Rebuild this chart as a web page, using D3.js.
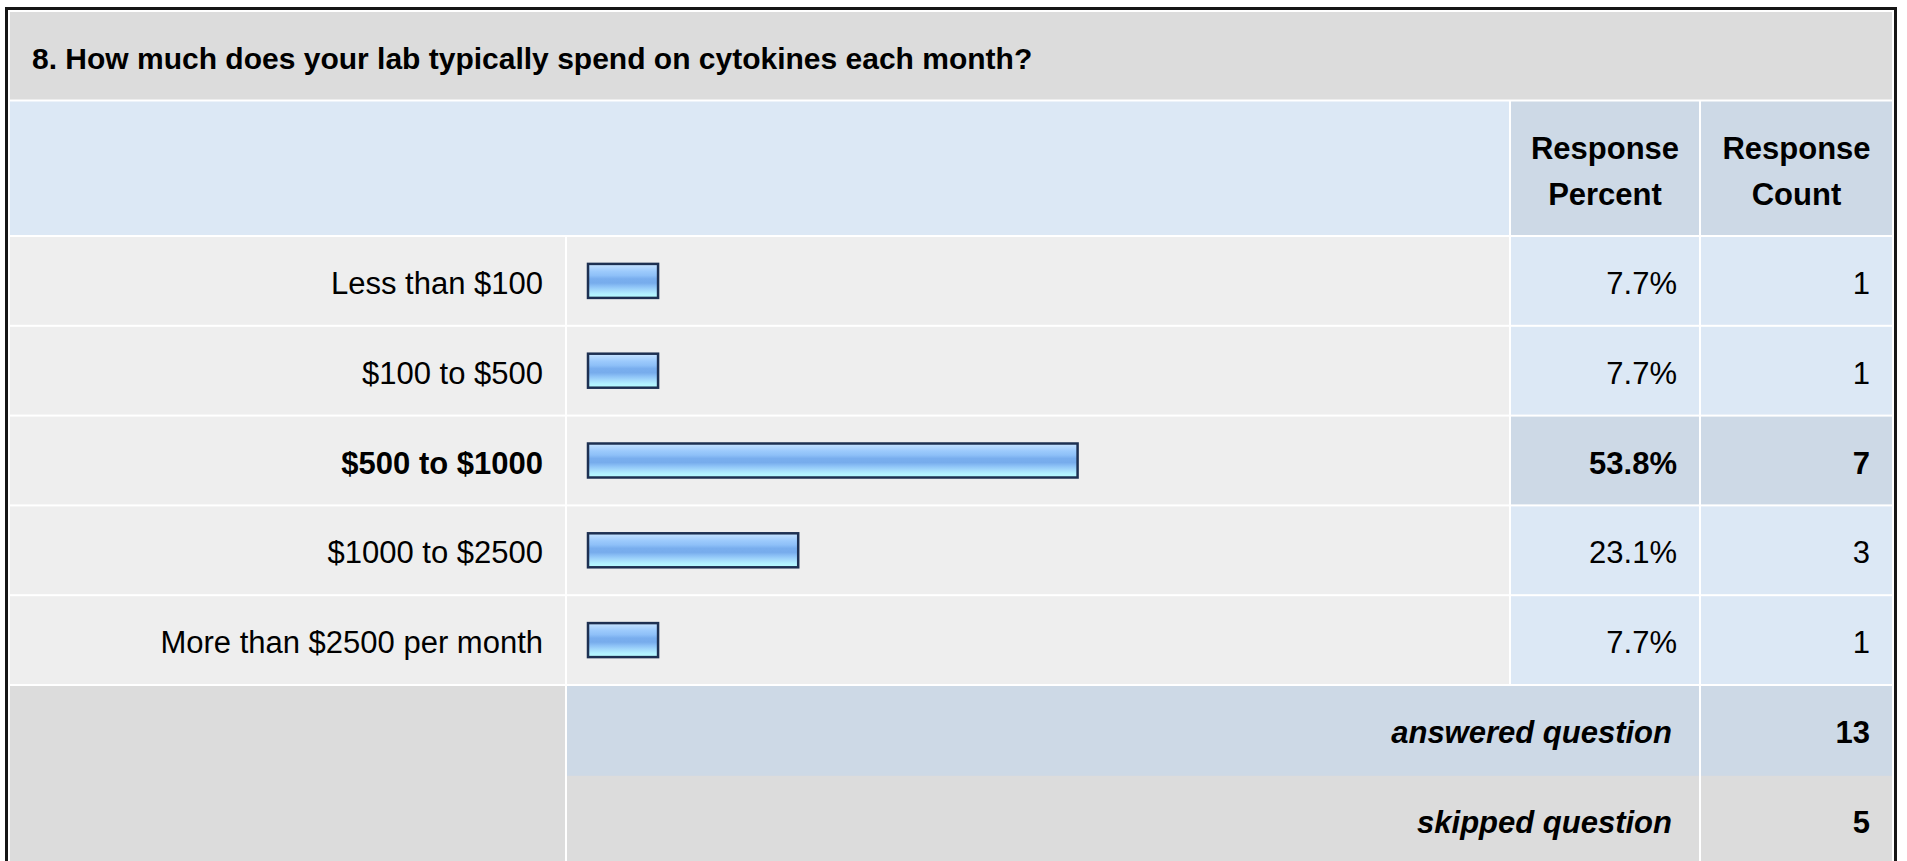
<!DOCTYPE html>
<html>
<head>
<meta charset="utf-8">
<script src="https://cdn.jsdelivr.net/npm/d3@7"></script>
<style>
  html, body { margin: 0; padding: 0; background: #ffffff; overflow: hidden; }
  svg { display: block; font-family: "Liberation Sans", Arial, Helvetica, sans-serif; }
</style>
</head>
<body>
<svg id="chart" width="1907" height="861"></svg>
<script>
// Survey question summary: answer choices, bar of response percent, percent and count.
const question = "8. How much does your lab typically spend on cytokines each month?";
const categories = ["Less than $100", "$100 to $500", "$500 to $1000", "$1000 to $2500", "More than $2500 per month"];
const percents = [7.7, 7.7, 53.8, 23.1, 7.7];
const counts = [1, 1, 7, 3, 1];
const headerPercent = ["Response", "Percent"];
const headerCount = ["Response", "Count"];
const summaryLabels = ["answered question", "skipped question"];
const summaryCounts = [13, 5];

const svg = d3.select("#chart");
const FS = 31;

// colours
const C = {
  title: "#dcdcdc",
  header: "#dce8f5",
  headerCell: "#cdd9e6",
  rowCell: "#eeeeee",
  valueCell: "#dce8f5",
  valueHi: "#cdd9e6",
  summaryCell: "#cdd9e6",
  grey: "#dcdcdc",
  border: "#161616",
  barStroke: "#1d3052",
  text: "#000000"
};

// table geometry
const left = 10, right = 1892;
const colLabel = [left, 565];
const colBar = [567, 1509];
const colPct = [1511, 1699];
const colCnt = [1701, right];
const titleBand = [12, 99.5];
const headerBand = [101.5, 235];

// rows: five answer choices, then two summary rows
const rowKeys = categories.concat(summaryLabels);
const y = d3.scaleBand().domain(rowKeys).range([236, 236 + 89.8 * rowKeys.length]).padding(0);
const rowTop = k => y(k) + 1;
const rowH = y.bandwidth() - 2;
const rowMid = k => y(k) + y.bandwidth() / 2;

// bar scale
const x = d3.scaleLinear().domain([0, 100]).range([588, 1498]);

const maxCount = d3.max(counts);
const fmtPct = v => d3.format(".1f")(v) + "%";

// gradient for the bars
const defs = svg.append("defs");
const grad = defs.append("linearGradient").attr("id", "barGrad")
  .attr("x1", 0).attr("y1", 0).attr("x2", 0).attr("y2", 1);
[
  [0.00, "#cbe7ff"], [0.10, "#b4d8fe"], [0.22, "#9ccafc"], [0.34, "#8ec0f8"],
  [0.44, "#79aeee"], [0.56, "#77acec"], [0.66, "#8cc1f6"], [0.76, "#a0d6fb"],
  [0.88, "#b2f0ff"], [1.00, "#b6feff"]
].forEach(([o, c]) => grad.append("stop").attr("offset", o).attr("stop-color", c));

// outer frame
svg.append("rect")
  .attr("x", 6.5).attr("y", 8.5)
  .attr("width", 1889).attr("height", 900)
  .attr("fill", "#ffffff")
  .attr("stroke", C.border).attr("stroke-width", 3);

// title band
svg.append("rect").attr("x", left).attr("y", titleBand[0])
  .attr("width", right - left).attr("height", titleBand[1] - titleBand[0]).attr("fill", C.title);
svg.append("text").attr("x", 32).attr("y", (titleBand[0] + titleBand[1]) / 2 + 13)
  .attr("font-size", 30).attr("font-weight", "bold").attr("fill", C.text)
  .text(question);

// header band
svg.append("rect").attr("x", left).attr("y", headerBand[0])
  .attr("width", colBar[1] - left).attr("height", headerBand[1] - headerBand[0]).attr("fill", C.header);
[[colPct, headerPercent], [colCnt, headerCount]].forEach(([col, lines]) => {
  svg.append("rect").attr("x", col[0]).attr("y", headerBand[0])
    .attr("width", col[1] - col[0]).attr("height", headerBand[1] - headerBand[0]).attr("fill", C.headerCell);
  const t = svg.append("text").attr("text-anchor", "middle")
    .attr("font-size", FS).attr("font-weight", "bold").attr("fill", C.text);
  lines.forEach((ln, i) => {
    t.append("tspan").attr("x", (col[0] + col[1]) / 2).attr("y", 159 + i * 46).text(ln);
  });
});

// answer rows
const rows = svg.append("g").selectAll("g").data(categories.map((c, i) => ({
  cat: c, pct: percents[i], cnt: counts[i], hi: counts[i] === maxCount
}))).join("g");

rows.append("rect").attr("x", colLabel[0]).attr("y", d => rowTop(d.cat))
  .attr("width", colLabel[1] - colLabel[0]).attr("height", rowH).attr("fill", C.rowCell);
rows.append("rect").attr("x", colBar[0]).attr("y", d => rowTop(d.cat))
  .attr("width", colBar[1] - colBar[0]).attr("height", rowH).attr("fill", C.rowCell);
rows.append("rect").attr("x", colPct[0]).attr("y", d => rowTop(d.cat))
  .attr("width", colPct[1] - colPct[0]).attr("height", rowH)
  .attr("fill", d => d.hi ? C.valueHi : C.valueCell);
rows.append("rect").attr("x", colCnt[0]).attr("y", d => rowTop(d.cat))
  .attr("width", colCnt[1] - colCnt[0]).attr("height", rowH)
  .attr("fill", d => d.hi ? C.valueHi : C.valueCell);

rows.append("text").attr("x", colLabel[1] - 22).attr("y", d => rowMid(d.cat) + 13)
  .attr("text-anchor", "end").attr("font-size", FS)
  .attr("font-weight", d => d.hi ? "bold" : "normal").attr("fill", C.text)
  .text(d => d.cat);

rows.append("rect")
  .attr("x", x(0)).attr("y", d => rowMid(d.cat) - 17)
  .attr("width", d => x(d.pct) - x(0)).attr("height", 34)
  .attr("fill", "url(#barGrad)")
  .attr("stroke", C.barStroke).attr("stroke-width", 2.5);

rows.append("text").attr("x", colPct[1] - 22).attr("y", d => rowMid(d.cat) + 13)
  .attr("text-anchor", "end").attr("font-size", FS)
  .attr("font-weight", d => d.hi ? "bold" : "normal").attr("fill", C.text)
  .text(d => fmtPct(d.pct));

rows.append("text").attr("x", colCnt[1] - 22).attr("y", d => rowMid(d.cat) + 13)
  .attr("text-anchor", "end").attr("font-size", FS)
  .attr("font-weight", d => d.hi ? "bold" : "normal").attr("fill", C.text)
  .text(d => d.cnt);

// summary rows
const summary = svg.append("g").selectAll("g").data(summaryLabels.map((s, i) => ({
  label: s, cnt: summaryCounts[i], fill: i === 0 ? C.summaryCell : C.grey
}))).join("g");

summary.append("rect").attr("x", colLabel[0]).attr("y", d => rowTop(d.label))
  .attr("width", colLabel[1] - colLabel[0]).attr("height", rowH + 10).attr("fill", C.grey);
summary.append("rect").attr("x", colBar[0]).attr("y", d => rowTop(d.label))
  .attr("width", colPct[1] - colBar[0]).attr("height", rowH + 10).attr("fill", d => d.fill);
summary.append("rect").attr("x", colCnt[0]).attr("y", d => rowTop(d.label))
  .attr("width", colCnt[1] - colCnt[0]).attr("height", rowH + 10).attr("fill", d => d.fill);

summary.append("text").attr("x", colPct[1] - 27).attr("y", d => rowMid(d.label) + 13)
  .attr("text-anchor", "end").attr("font-size", FS)
  .attr("font-weight", "bold").attr("font-style", "italic").attr("fill", C.text)
  .text(d => d.label);
summary.append("text").attr("x", colCnt[1] - 22).attr("y", d => rowMid(d.label) + 13)
  .attr("text-anchor", "end").attr("font-size", FS)
  .attr("font-weight", "bold").attr("fill", C.text)
  .text(d => d.cnt);
</script>
</body>
</html>
